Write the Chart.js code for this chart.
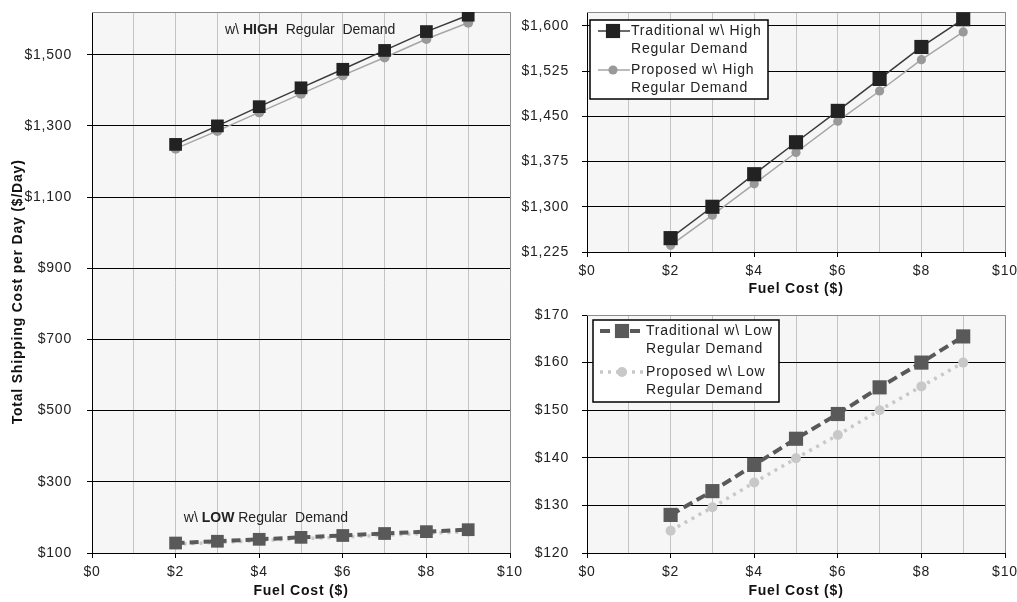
<!DOCTYPE html>
<html>
<head>
<meta charset="utf-8">
<script src="https://cdn.jsdelivr.net/npm/chart.js@4.4.1/dist/chart.umd.min.js"></script>
<style>
  body { margin: 0; background: #fff; }
  #wrap { position: relative; width: 1017px; height: 602px; overflow: hidden; }
  canvas { position: absolute; }
</style>
</head>
<body>
<div id="wrap">
  <canvas id="chart-all" width="530" height="602" style="left:0;top:0"></canvas>
  <canvas id="chart-high" width="502" height="300" style="left:515px;top:0"></canvas>
  <canvas id="chart-low" width="502" height="302" style="left:515px;top:300px"></canvas>
</div>
<script>
// values
var fuelCost = [2, 3, 4, 5, 6, 7, 8, 9];
var tradHigh = [1248, 1300, 1354, 1407, 1459, 1512, 1565, 1611];
var propHigh = [1236, 1286, 1338, 1390, 1442, 1492, 1544, 1590];
var tradLow = [128, 133, 138.5, 144, 149.2, 154.8, 160, 165.5];
var propLow = [124.7, 129.6, 134.8, 139.9, 144.8, 150, 155, 160];

var xTicks = [0, 1, 2, 3, 4, 5, 6, 7, 8, 9, 10];
var yTicksAll = [100, 300, 500, 700, 900, 1100, 1300, 1500];
var yTicksHigh = [1225, 1300, 1375, 1450, 1525, 1600];
var yTicksLow = [120, 130, 140, 150, 160, 170];

var legendHigh = [['Traditional w\\ High', 'Regular Demand'], ['Proposed w\\ High', 'Regular Demand']];
var legendLow = [['Traditional w\\ Low', 'Regular Demand'], ['Proposed w\\ Low', 'Regular Demand']];

Chart.defaults.font.family = '"Liberation Sans", Arial, sans-serif';
Chart.defaults.font.size = 14;
Chart.defaults.color = '#222';

// excel-ish wide text
Chart.register({
  id: 'spacing',
  beforeLayout: function(c) { c.ctx.letterSpacing = '0.8px'; },
  beforeDraw: function(c) { c.ctx.letterSpacing = '0.8px'; }
});

var plotBg = {
  id: 'plotBg',
  beforeDraw: function(chart) {
    var ctx = chart.ctx, a = chart.chartArea;
    ctx.save();
    ctx.fillStyle = '#f6f6f6';
    ctx.fillRect(a.left, a.top, a.right - a.left, a.bottom - a.top);
    ctx.restore();
  },
  beforeDatasetsDraw: function(chart) {
    var ctx = chart.ctx, a = chart.chartArea;
    ctx.save();
    ctx.strokeStyle = '#8c8c8c';
    ctx.lineWidth = 1;
    ctx.beginPath();
    ctx.moveTo(a.left, a.top + 0.5);
    ctx.lineTo(a.right + 0.5, a.top + 0.5);
    ctx.lineTo(a.right + 0.5, a.bottom);
    ctx.stroke();
    ctx.restore();
  }
};

function pts(ys) {
  return fuelCost.map(function(x, i) { return {x: x, y: ys[i]}; });
}

function line(label, ys, color, fill, width, dash, style, radius) {
  return {
    label: label, data: pts(ys),
    borderColor: color, borderWidth: width, borderDash: dash,
    backgroundColor: fill, pointBackgroundColor: fill, pointBorderColor: fill,
    pointBorderWidth: 0, pointStyle: style, pointRadius: radius, pointHoverRadius: radius,
    tension: 0, fill: false
  };
}

function drawMarker(ctx, ds, x, y) {
  ctx.fillStyle = ds.pointBackgroundColor;
  ctx.beginPath();
  if (ds.pointStyle === 'rect') {
    var h = ds.pointRadius * Math.SQRT1_2;
    ctx.rect(x - h, y - h, 2 * h, 2 * h);
  } else {
    ctx.arc(x, y, ds.pointRadius, 0, Math.PI * 2);
  }
  ctx.fill();
}

function boxLegend(box, labels) {
  return {
    id: 'boxLegend',
    afterDatasetsDraw: function(chart) {
      var ctx = chart.ctx, a = chart.chartArea;
      var x0 = a.left + box.x, y0 = a.top + box.y;
      ctx.save();
      ctx.fillStyle = '#fff';
      ctx.fillRect(x0, y0, box.w, box.h);
      ctx.strokeStyle = '#000';
      ctx.lineWidth = 1.5;
      ctx.strokeRect(x0, y0, box.w, box.h);
      labels.forEach(function(lines, i) {
        var ds = chart.data.datasets[i];
        var ly = y0 + box.rows[i];
        ctx.strokeStyle = ds.borderColor;
        ctx.lineWidth = ds.borderWidth;
        ctx.setLineDash(ds.borderDash || []);
        ctx.beginPath();
        ctx.moveTo(x0 + box.l1, ly);
        ctx.lineTo(x0 + box.l2, ly);
        ctx.stroke();
        ctx.setLineDash([]);
        drawMarker(ctx, ds, x0 + box.mx, ly);
        ctx.fillStyle = '#222';
        ctx.font = '14px "Liberation Sans", Arial, sans-serif';
        ctx.textBaseline = 'middle';
        ctx.textAlign = 'left';
        lines.forEach(function(t, j) {
          ctx.fillText(t, x0 + box.tx, ly + j * box.lh);
        });
      });
      ctx.restore();
    }
  };
}

// the two notes in the big chart
var notes = [
  {x: 5.22, y: 1568, parts: [['w\\ ', false], ['HIGH', true], ['  Regular  Demand', false]]},
  {x: 4.16, y: 198, parts: [['w\\ ', false], ['LOW', true], [' Regular  Demand', false]]}
];
var notePlugin = {
  id: 'notes',
  afterDatasetsDraw: function(chart) {
    var ctx = chart.ctx;
    ctx.save();
    ctx.letterSpacing = '0px';
    ctx.fillStyle = '#222';
    ctx.textBaseline = 'middle';
    ctx.textAlign = 'left';
    notes.forEach(function(n) {
      var total = 0;
      n.parts.forEach(function(p) {
        ctx.font = (p[1] ? 'bold ' : '') + '14px "Liberation Sans", Arial, sans-serif';
        total += ctx.measureText(p[0]).width;
      });
      var x = chart.scales.x.getPixelForValue(n.x) - total / 2;
      var y = chart.scales.y.getPixelForValue(n.y);
      n.parts.forEach(function(p) {
        ctx.font = (p[1] ? 'bold ' : '') + '14px "Liberation Sans", Arial, sans-serif';
        ctx.fillText(p[0], x, y);
        x += ctx.measureText(p[0]).width;
      });
    });
    ctx.restore();
  }
};

function makeChart(id, cfg) {
  return new Chart(document.getElementById(id), {
    type: 'line',
    data: {datasets: cfg.datasets},
    options: {
      responsive: false,
      animation: false,
      events: [],
      layout: {padding: {top: cfg.padTop, right: cfg.padRight, left: 0, bottom: 0}},
      plugins: {legend: {display: false}, tooltip: {enabled: false}},
      scales: {
        x: {
          type: 'linear', min: 0, max: 10,
          afterBuildTicks: function(s) { s.ticks = xTicks.map(function(v) { return {value: v}; }); },
          afterFit: function(s) { s.height = cfg.xHeight; s.paddingLeft = 0; s.paddingRight = 0; },
          ticks: {
            autoSkip: false, maxRotation: 0, padding: 6, color: '#222',
            callback: function(v) { return v % 2 ? '' : '$' + v; }
          },
          grid: {
            color: '#c4c4c4', lineWidth: 1, tickLength: 5,
            tickColor: function(c) { return (c.tick && c.tick.value % 2) ? 'rgba(0,0,0,0)' : '#000'; }
          },
          border: {color: '#000', width: 1},
          title: {
            display: true, text: 'Fuel Cost ($)', color: '#111',
            font: {weight: 'bold', size: 14}, padding: {top: 0, bottom: 2}
          }
        },
        y: {
          type: 'linear', min: cfg.yMin, max: cfg.yMax,
          afterBuildTicks: function(s) { s.ticks = cfg.yTicks.map(function(v) { return {value: v}; }); },
          afterFit: function(s) { s.width = cfg.yWidth; s.paddingTop = 0; s.paddingBottom = 0; },
          ticks: {
            padding: cfg.yPad, color: '#222',
            callback: function(v) { return '$' + v.toLocaleString('en-US'); }
          },
          grid: {color: '#000', lineWidth: 1, tickLength: 5, tickColor: '#000'},
          border: {color: '#000', width: 1},
          title: cfg.yTitle ? {
            display: true, text: cfg.yTitle, color: '#111',
            font: {weight: 'bold', size: 14}, padding: {top: 10, bottom: 0}
          } : {display: false}
        }
      }
    },
    plugins: [plotBg].concat(cfg.plugins || [])
  });
}

makeChart('chart-all', {
  datasets: [
    line('Traditional w\\ High Regular Demand', tradHigh, '#3a3a3a', '#222', 1.5, [], 'rect', 9),
    line('Proposed w\\ High Regular Demand', propHigh, '#a6a6a6', '#999', 1.5, [], 'circle', 5),
    line('Traditional w\\ Low Regular Demand', tradLow, '#595959', '#595959', 4, [9, 5], 'rect', 9),
    line('Proposed w\\ Low Regular Demand', propLow, '#c8c8c8', '#c8c8c8', 3.5, [3, 5], 'circle', 5)
  ],
  yMin: 100, yMax: 1620, yTicks: yTicksAll,
  yWidth: 92, yPad: 15, xHeight: 49, padTop: 12, padRight: 20,
  // trailing spaces nudge the rotated title down a little, as in the original
  yTitle: 'Total Shipping Cost per Day ($/Day)    ',
  plugins: [notePlugin]
});

makeChart('chart-high', {
  datasets: [
    line('Traditional w\\ High Regular Demand', tradHigh, '#3a3a3a', '#222', 1.5, [], 'rect', 10),
    line('Proposed w\\ High Regular Demand', propHigh, '#a6a6a6', '#999', 1.5, [], 'circle', 4.6)
  ],
  yMin: 1225, yMax: 1623, yTicks: yTicksHigh,
  yWidth: 72, yPad: 13, xHeight: 48, padTop: 12, padRight: 12,
  plugins: [boxLegend({x: 3, y: 8, w: 178, h: 79, rows: [11, 50], lh: 18, l1: 8, l2: 40, mx: 23, tx: 41}, legendHigh)]
});

makeChart('chart-low', {
  datasets: [
    line('Traditional w\\ Low Regular Demand', tradLow, '#595959', '#595959', 4, [10, 5], 'rect', 10),
    line('Proposed w\\ Low Regular Demand', propLow, '#c8c8c8', '#c8c8c8', 3.5, [3, 5], 'circle', 5)
  ],
  yMin: 120, yMax: 170, yTicks: yTicksLow,
  yWidth: 72, yPad: 13, xHeight: 49, padTop: 15, padRight: 12,
  plugins: [boxLegend({x: 6, y: 5, w: 186, h: 82, rows: [11, 52], lh: 18, l1: 7, l2: 50, mx: 29, tx: 53}, legendLow)]
});
</script>
</body>
</html>
